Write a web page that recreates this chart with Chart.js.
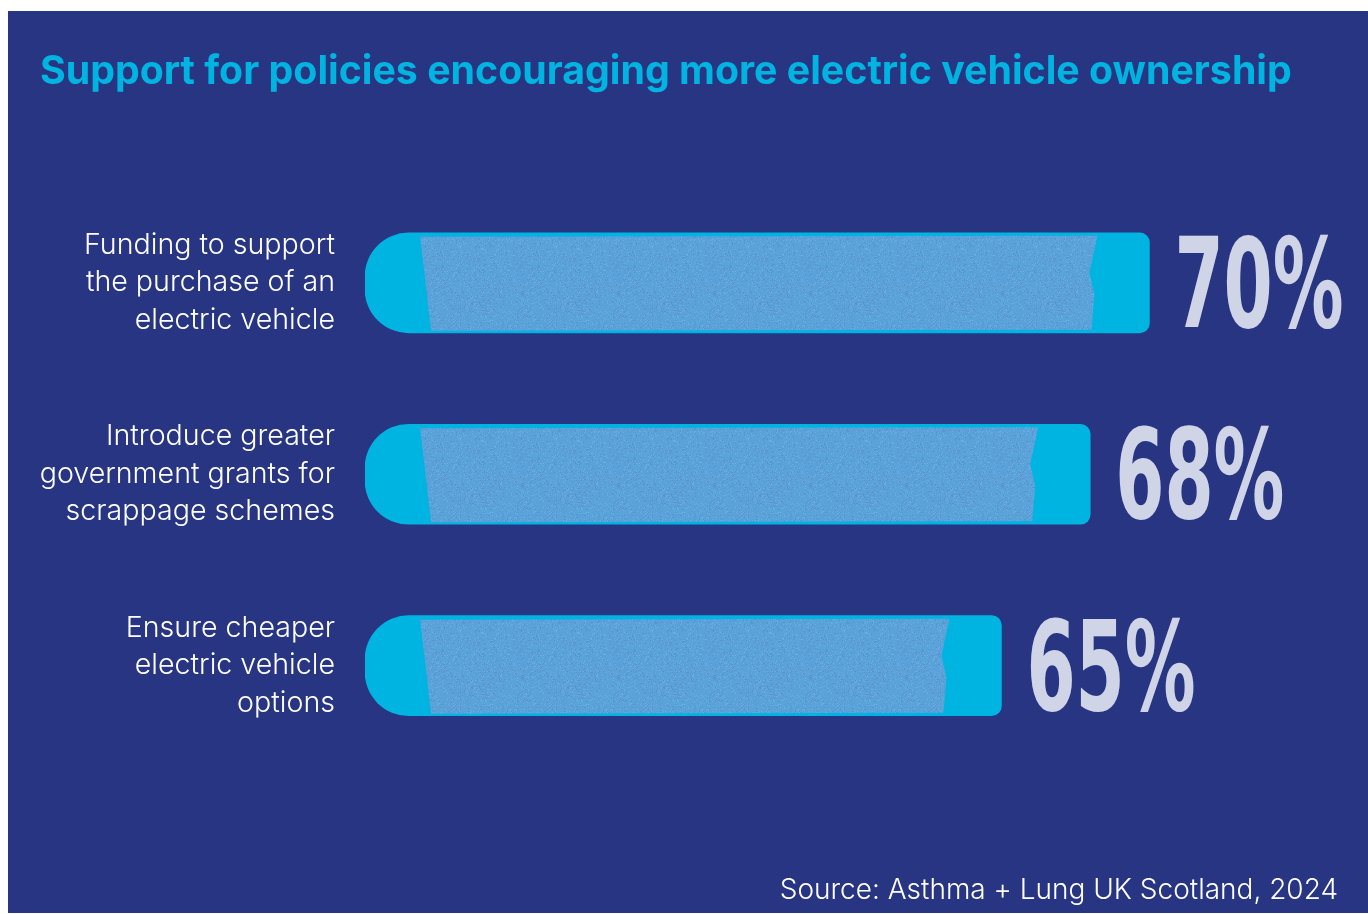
<!DOCTYPE html>
<html>
<head>
<meta charset="utf-8">
<script src="https://cdn.jsdelivr.net/npm/chart.js@4/dist/chart.umd.min.js"></script>
<style>
  html, body { margin: 0; padding: 0; background: #ffffff; }
  #panel { position: absolute; left: 8px; top: 11px; width: 1360px; height: 902px; background: #283583; }
  #chart { display: block; }
</style>
</head>
<body>
<div id="panel"><canvas id="chart" width="1360" height="902"></canvas></div>
<script>
// Survey results: share of respondents supporting each policy
const categories = [
  ['Funding to support', 'the purchase of an', 'electric vehicle'],
  ['Introduce greater', 'government grants for', 'scrappage schemes'],
  ['Ensure cheaper', 'electric vehicle', 'options']
];
const supportPct = [70, 68, 65];
const valueLabels = ['70%', '68%', '65%'];

const titleText = 'Support for policies encouraging more electric vehicle ownership';
const sourceText = 'Source: Asthma + Lung UK Scotland, 2024';

const AXIS_MIN = 43.5;
const AXIS_MAX = 76.37;

const CYAN = '#00b4e1';
const INNER = '#5aa3da';

// Speckled fill for the paler band inside each bar (deterministic hash noise)
function makeSpecklePattern(ctx) {
  const c = document.createElement('canvas');
  c.width = 96; c.height = 96;
  const g = c.getContext('2d');
  g.fillStyle = INNER;
  g.fillRect(0, 0, 96, 96);
  for (let y = 0; y < 96; y++) {
    for (let x = 0; x < 96; x++) {
      let h = (x * 374761393 + y * 668265263) | 0;
      h = Math.imul(h ^ (h >>> 13), 1274126177);
      h = (h ^ (h >>> 16)) >>> 0;
      const r = (h % 1000) / 1000;
      if (r < 0.10) {
        g.fillStyle = 'rgba(110,110,170,0.35)';
        g.fillRect(x, y, 1, 1);
      } else if (r > 0.9) {
        g.fillStyle = 'rgba(120,190,235,0.45)';
        g.fillRect(x, y, 1, 1);
      }
    }
  }
  return ctx.createPattern(c, 'repeat');
}

const barDecor = {
  id: 'barDecor',
  afterDatasetsDraw(chart) {
    const ctx = chart.ctx;
    const meta = chart.getDatasetMeta(0);
    if (!this._pattern) this._pattern = makeSpecklePattern(ctx);
    meta.data.forEach((bar, i) => {
      const p = bar.getProps(['x', 'y', 'base', 'height'], true);
      const top = p.y - p.height / 2;
      const bot = p.y + p.height / 2;
      // paler inner band
      ctx.save();
      ctx.beginPath();
      ctx.moveTo(p.base + 55, top + 4);
      ctx.lineTo(p.x - 52, top + 3);
      ctx.lineTo(p.x - 60, p.y - 10);
      ctx.lineTo(p.x - 55, p.y + 12);
      ctx.lineTo(p.x - 58, bot - 3);
      ctx.lineTo(p.base + 66, bot - 2);
      ctx.lineTo(p.base + 60, p.y - 5);
      ctx.closePath();
      ctx.fillStyle = this._pattern;
      ctx.fill();
      ctx.restore();

      // value label in tall condensed lettering
      ctx.save();
      ctx.translate(p.x + 25, p.y + 44);
      ctx.scale(0.57, 1);
      ctx.font = 'bold 124px "DejaVu Sans"';
      ctx.textAlign = 'left';
      ctx.textBaseline = 'alphabetic';
      ctx.fillStyle = 'rgba(226,229,242,0.9)';
      ctx.fillText(valueLabels[i], 0, 0);
      ctx.restore();
    });
  }
};

new Chart(document.getElementById('chart'), {
  type: 'bar',
  data: {
    labels: categories,
    datasets: [{
      data: supportPct,
      base: AXIS_MIN,
      backgroundColor: CYAN,
      borderWidth: 0,
      borderSkipped: false,
      borderRadius: { topLeft: 44, bottomLeft: 44, topRight: 10, bottomRight: 10 },
      barThickness: 100
    }]
  },
  options: {
    indexAxis: 'y',
    responsive: false,
    animation: false,
    layout: { padding: { left: 32, right: 30, top: 0, bottom: 0 } },
    scales: {
      x: {
        display: false,
        min: AXIS_MIN,
        max: AXIS_MAX
      },
      y: {
        grid: { display: false, drawTicks: false },
        border: { display: false },
        ticks: {
          color: '#ffffff',
          padding: 30,
          font: { family: 'Inter', weight: '300', size: 28.6, lineHeight: 1.31 }
        },
        afterFit(scale) { scale.width = 325; }
      }
    },
    plugins: {
      legend: { display: false },
      tooltip: { enabled: false },
      title: {
        display: true,
        text: titleText,
        align: 'start',
        color: CYAN,
        font: { family: 'Inter', weight: '700', size: 39.3, lineHeight: 1.2 },
        padding: { top: 38, bottom: 91 }
      },
      subtitle: {
        display: true,
        text: sourceText,
        position: 'bottom',
        align: 'end',
        color: '#ffffff',
        font: { family: 'Inter', weight: '300', size: 28, lineHeight: 1.2 },
        padding: { top: 112, bottom: 6 }
      }
    }
  },
  plugins: [barDecor]
});
</script>
</body>
</html>
